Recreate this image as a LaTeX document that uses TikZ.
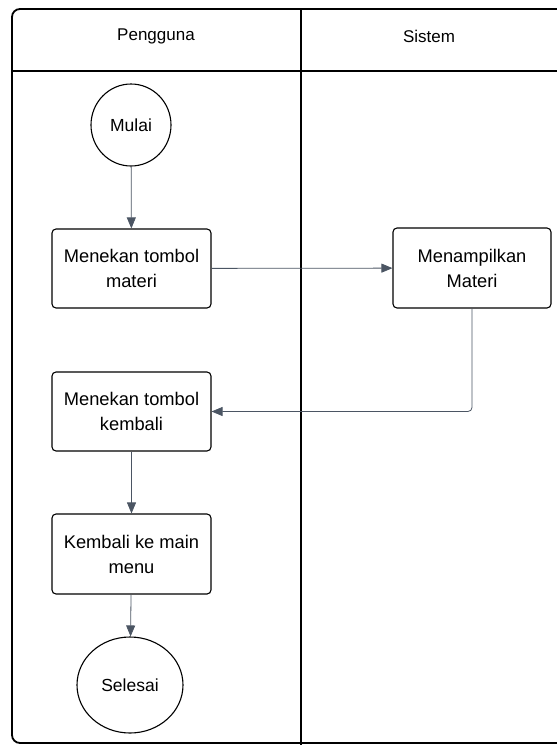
\documentclass[tikz,border=0pt]{standalone}
\usepackage{fontspec}
\setmainfont{Liberation Sans}
\usetikzlibrary{arrows.meta,shapes.geometric}
\definecolor{flow}{HTML}{4B5563}
\tikzset{
  x=1pt, y=-1pt,
  lane/.style={line width=1.8pt, black},
  lanetitle/.style={font=\fontsize{17}{20}\selectfont},
  stepbox/.style={draw=black, line width=1.1pt, rounded corners=4pt,
    minimum width=159pt, minimum height=79pt, align=center,
    font=\fontsize{18.3}{25}\selectfont, inner sep=2pt},
  terminal/.style={draw=black, line width=1.1pt, ellipse, align=center,
    font=\fontsize{17.5}{20}\selectfont, inner sep=0pt},
  flowline/.style={draw=flow, line width=0.8pt,
    -{Triangle[length=11pt,width=9pt]}},
}
\begin{document}
\begin{tikzpicture}
\useasboundingbox (0,0) rectangle (557,745);
\begin{scope}
\clip (0,0) rectangle (557,745);
% swimlane frame
\draw[lane, rounded corners=8pt] (600,9) -- (12,9) -- (12,743) -- (600,743);
\draw[lane, line width=1.3pt] (12,71) -- (557,71);
\draw[lane, line width=1.3pt] (301,9) -- (301,745);
\end{scope}
\node[lanetitle] (laneA) at (156,36) {Pengguna};
\node[lanetitle] (laneB) at (429,36) {Sistem};

% activity nodes
\node[terminal, minimum width=80pt, minimum height=82pt] (start) at (131,125) {Mulai};
\node[stepbox] (s1) at (131.5,268.5) {Menekan tombol\\materi};
\node[stepbox, minimum width=158pt, minimum height=80pt] (s2) at (472,268) {Menampilkan\\Materi};
\node[stepbox] (s3) at (131.5,411.5) {Menekan tombol\\kembali};
\node[stepbox, minimum height=80pt] (s4) at (131.5,554) {Kembali ke main\\menu};
\node[terminal, minimum width=106pt, minimum height=96pt] (stop) at (130,685) {Selesai};

% control flow
\draw[flowline] (start) -- (s1);
\draw[flowline] (s1) -- (s2);
\draw[flowline, rounded corners=4pt] (s2.south) |- (s3.east);
\draw[flowline] (s3) -- (s4);
\draw[flowline] (s4) -- (stop);
\end{tikzpicture}
\end{document}
